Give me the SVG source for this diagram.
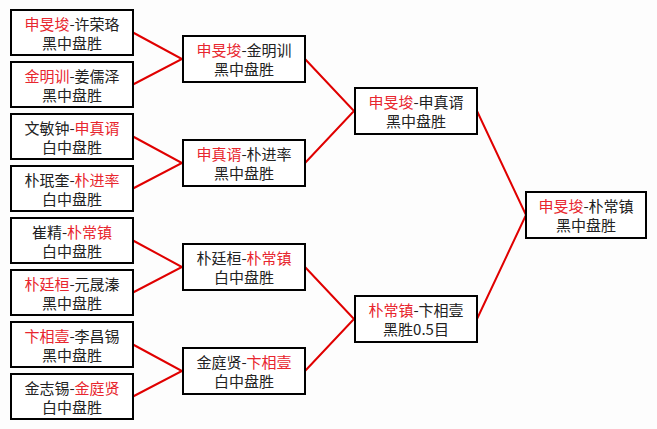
<svg xmlns="http://www.w3.org/2000/svg" width="657" height="429" viewBox="0 0 657 429">
<style>
.box{fill:#fff;stroke:#000;stroke-width:2}
.t{font-family:"Noto Sans CJK SC","Liberation Sans",sans-serif;font-size:15px;fill:#222;text-anchor:middle}
.r{fill:#e8262e}
.c{stroke:#e00000;stroke-width:2;fill:none}
</style>
<rect width="657" height="429" fill="#fdfdfd"/>
<g id="connectors">
<polyline class="c" points="133,32.5 182,59 133,84.5"/>
<polyline class="c" points="133,136.5 182,163 133,188.5"/>
<polyline class="c" points="133,240.5 182,267 133,292.5"/>
<polyline class="c" points="133,344.5 182,371 133,396.5"/>
<polyline class="c" points="305,59 354,111 305,163"/>
<polyline class="c" points="305,267 354,319 305,371"/>
<polyline class="c" points="477,111 526,215 477,319"/>
</g>
<g id="n1"><rect class="box" x="11" y="10" width="122" height="45"/><text class="t" x="72" y="30"><tspan class="r">申旻埈</tspan>-许荣珞</text><text class="t" x="72" y="49">黑中盘胜</text></g>
<g id="n2"><rect class="box" x="11" y="62" width="122" height="45"/><text class="t" x="72" y="82"><tspan class="r">金明训</tspan>-姜儒泽</text><text class="t" x="72" y="101">黑中盘胜</text></g>
<g id="n3"><rect class="box" x="11" y="114" width="122" height="45"/><text class="t" x="72" y="134">文敏钟-<tspan class="r">申真谞</tspan></text><text class="t" x="72" y="153">白中盘胜</text></g>
<g id="n4"><rect class="box" x="11" y="166" width="122" height="45"/><text class="t" x="72" y="186">朴珉奎-<tspan class="r">朴进率</tspan></text><text class="t" x="72" y="205">白中盘胜</text></g>
<g id="n5"><rect class="box" x="11" y="218" width="122" height="45"/><text class="t" x="72" y="238">崔精-<tspan class="r">朴常镇</tspan></text><text class="t" x="72" y="257">白中盘胜</text></g>
<g id="n6"><rect class="box" x="11" y="270" width="122" height="45"/><text class="t" x="72" y="290"><tspan class="r">朴廷桓</tspan>-元晟溱</text><text class="t" x="72" y="309">黑中盘胜</text></g>
<g id="n7"><rect class="box" x="11" y="322" width="122" height="45"/><text class="t" x="72" y="342"><tspan class="r">卞相壹</tspan>-李昌锡</text><text class="t" x="72" y="361">黑中盘胜</text></g>
<g id="n8"><rect class="box" x="11" y="374" width="122" height="45"/><text class="t" x="72" y="394">金志锡-<tspan class="r">金庭贤</tspan></text><text class="t" x="72" y="413">白中盘胜</text></g>
<g id="m1"><rect class="box" x="183" y="36" width="122" height="46"/><text class="t" x="244" y="56"><tspan class="r">申旻埈</tspan>-金明训</text><text class="t" x="244" y="75">黑中盘胜</text></g>
<g id="m2"><rect class="box" x="183" y="140" width="122" height="46"/><text class="t" x="244" y="160"><tspan class="r">申真谞</tspan>-朴进率</text><text class="t" x="244" y="179">黑中盘胜</text></g>
<g id="m3"><rect class="box" x="183" y="244" width="122" height="46"/><text class="t" x="244" y="264">朴廷桓-<tspan class="r">朴常镇</tspan></text><text class="t" x="244" y="283">白中盘胜</text></g>
<g id="m4"><rect class="box" x="183" y="348" width="122" height="46"/><text class="t" x="244" y="368">金庭贤-<tspan class="r">卞相壹</tspan></text><text class="t" x="244" y="387">白中盘胜</text></g>
<g id="s1"><rect class="box" x="355" y="88" width="122" height="46"/><text class="t" x="416" y="108"><tspan class="r">申旻埈</tspan>-申真谞</text><text class="t" x="416" y="127">黑中盘胜</text></g>
<g id="s2"><rect class="box" x="355" y="296" width="122" height="46"/><text class="t" x="416" y="316"><tspan class="r">朴常镇</tspan>-卞相壹</text><text class="t" x="416" y="335">黑胜0.5目</text></g>
<g id="f"><rect class="box" x="526" y="192" width="120" height="46"/><text class="t" x="586" y="212"><tspan class="r">申旻埈</tspan>-朴常镇</text><text class="t" x="586" y="231">黑中盘胜</text></g>
</svg>
